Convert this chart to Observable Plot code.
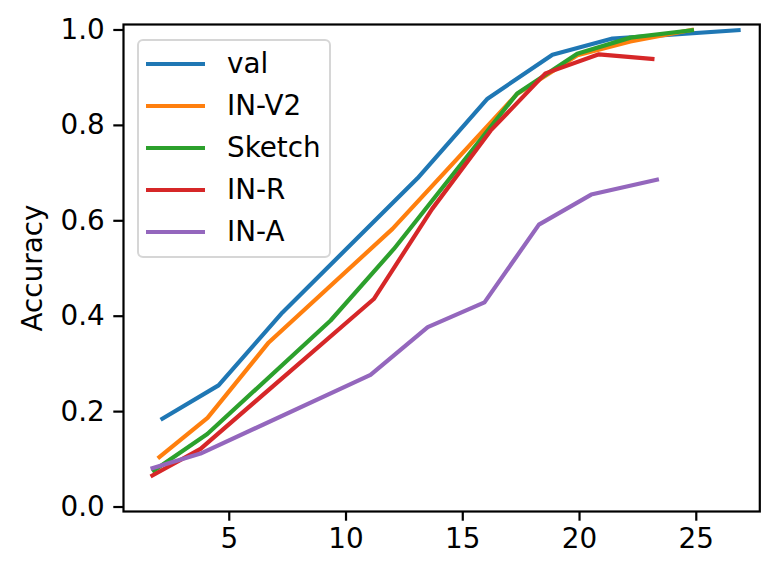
<!DOCTYPE html>
<html>
<head>
<meta charset="utf-8">
<script src="https://cdn.jsdelivr.net/npm/d3@7"></script>
<script src="https://cdn.jsdelivr.net/npm/@observablehq/plot@0.6"></script>
<style>
  body { margin: 0; background: #fff; }
  #wrap { position: relative; width: 780px; height: 579px; font-family: "DejaVu Sans", sans-serif; }
  #legend { position: absolute; left: 137px; top: 39px; width: 190px; height: 215px;
    border: 2.2px solid #d6d6d6; border-radius: 6px; background: rgba(255,255,255,0.8); box-sizing: content-box; }
  .row { position: absolute; left: 0; height: 42px; display: flex; align-items: center; }
  .sw { width: 59px; height: 4.2px; margin-left: 7px; }
  .lb { margin-left: 22px; font-size: 27.8px; color: #000; line-height: 1; }
</style>
</head>
<body>
<div id="wrap"></div>
<script>
const seriesNames = ["val", "IN-V2", "Sketch", "IN-R", "IN-A"];
const colors = ["#1f77b4", "#ff7f0e", "#2ca02c", "#d62728", "#9467bd"];

const valX = [2.06, 4.54, 7.28, 13.06, 16.06, 18.84, 21.41, 26.9];
const valY = [0.183, 0.255, 0.408, 0.689, 0.856, 0.948, 0.982, 1.000];

const v2X = [1.94, 4.07, 6.69, 11.99, 17.33, 19.91, 22.18, 24.9];
const v2Y = [0.102, 0.187, 0.345, 0.583, 0.866, 0.947, 0.976, 1.001];

const sketchX = [1.70, 4.06, 9.34, 12.05, 17.33, 19.9, 22.18, 24.9];
const sketchY = [0.074, 0.153, 0.391, 0.541, 0.867, 0.950, 0.984, 1.000];

const irX = [1.63, 3.77, 11.19, 13.69, 16.19, 18.54, 20.83, 23.21];
const irY = [0.064, 0.122, 0.436, 0.625, 0.789, 0.909, 0.949, 0.939];

const iaX = [1.63, 3.77, 11.05, 13.5, 15.93, 18.26, 20.5, 23.4];
const iaY = [0.080, 0.112, 0.277, 0.377, 0.429, 0.592, 0.655, 0.687];

const xTicks = [5, 10, 15, 20, 25];
const yTicks = [0, 0.2, 0.4, 0.6, 0.8, 1.0];
const yLabel = "Accuracy";

const allX = [valX, v2X, sketchX, irX, iaX];
const allY = [valY, v2Y, sketchY, irY, iaY];
const rows = [];
seriesNames.forEach((s, i) => allX[i].forEach((x, j) => rows.push({series: s, x, y: allY[i][j]})));

const plot = Plot.plot({
  width: 780,
  height: 579,
  marginLeft: 123,
  marginRight: 20.7,
  marginTop: 24,
  marginBottom: 68,
  style: {fontFamily: "DejaVu Sans, sans-serif", fontSize: "27.8px", color: "#000", background: "#fff"},
  x: {domain: [0.471, 27.72]},
  y: {domain: [-0.0094, 1.0115]},
  color: {domain: seriesNames, range: colors},
  marks: [
    Plot.line(rows, {x: "x", y: "y", z: "series", stroke: "series", strokeWidth: 4.2, strokeLinejoin: "round", strokeLinecap: "butt"}),
    Plot.frame({stroke: "#000", strokeWidth: 2.2}),
    Plot.axisX({ticks: xTicks, tickSize: 9.7, tickPadding: 7, strokeWidth: 2.2, label: null, tickFormat: d3.format("d")}),
    Plot.axisY({ticks: yTicks, tickSize: 9.7, tickPadding: 9, strokeWidth: 2.2, label: null, tickFormat: d3.format(".1f")}),
    Plot.text([yLabel], {frameAnchor: "left", rotate: -90, dx: -90, text: d => d, fontSize: 27.8, textAnchor: "middle", lineAnchor: "middle"})
  ]
});

const wrap = document.getElementById("wrap");
wrap.appendChild(plot);

const legend = document.createElement("div");
legend.id = "legend";
seriesNames.forEach((s, i) => {
  const row = document.createElement("div");
  row.className = "row";
  row.style.top = (2 + i * 42) + "px";
  const sw = document.createElement("div");
  sw.className = "sw";
  sw.style.background = colors[i];
  const lb = document.createElement("span");
  lb.className = "lb";
  lb.textContent = s;
  row.appendChild(sw);
  row.appendChild(lb);
  legend.appendChild(row);
});
wrap.appendChild(legend);
</script>
</body>
</html>
